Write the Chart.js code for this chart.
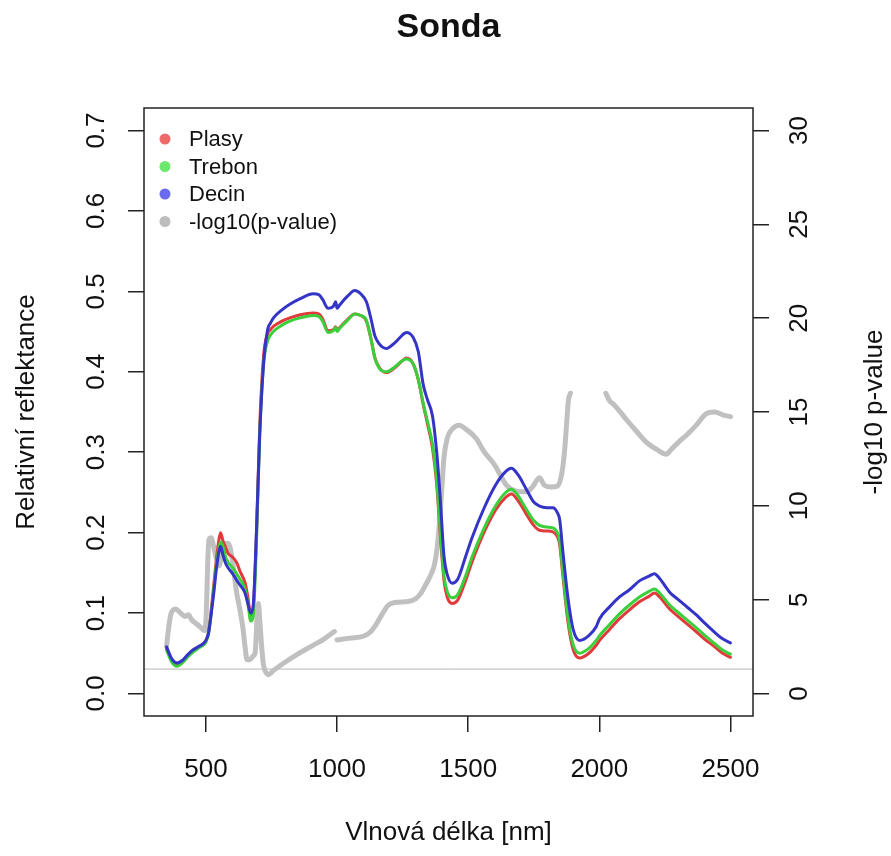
<!DOCTYPE html>
<html>
<head>
<meta charset="utf-8">
<title>Sonda</title>
<script src="https://cdn.jsdelivr.net/npm/chart.js@4.4.1/dist/chart.umd.min.js"></script>
<style>
  html, body { margin: 0; padding: 0; background: #fff; }
  #wrap { width: 891px; height: 856px; }
</style>
</head>
<body>
<div id="wrap"><canvas id="chart" width="891" height="856"></canvas></div>
<script>
// vlnove delky spolecne pro vsechny tri spektra
const wavelengths = [350, 370, 390, 410, 430, 450, 470, 490, 500, 510, 520, 530, 540, 550, 556, 565, 575, 585, 600, 617, 630, 649, 660, 671, 680, 693, 705, 720, 735, 745, 760, 790, 820, 860, 909, 930, 945, 966, 985, 995, 1000, 1010, 1040, 1068, 1090, 1112, 1130, 1144, 1160, 1188, 1220, 1250, 1265, 1290, 1310, 1328, 1345, 1364, 1380, 1393, 1408, 1420, 1439, 1460, 1490, 1514, 1560, 1604, 1640, 1665, 1690, 1720, 1750, 1772, 1800, 1823, 1840, 1849, 1860, 1880, 1900, 1925, 1960, 1988, 2001, 2040, 2077, 2115, 2153, 2190, 2210, 2230, 2268, 2300, 2340, 2369, 2400, 2440, 2470, 2500];

const plasy = [0.055, 0.041, 0.036, 0.040, 0.047, 0.053, 0.057, 0.062, 0.066, 0.076, 0.103, 0.135, 0.167, 0.192, 0.200, 0.190, 0.182, 0.174, 0.170, 0.163, 0.152, 0.138, 0.120, 0.097, 0.105, 0.200, 0.330, 0.420, 0.447, 0.452, 0.457, 0.463, 0.467, 0.471, 0.473, 0.472, 0.466, 0.451, 0.452, 0.456, 0.452, 0.455, 0.465, 0.472, 0.470, 0.463, 0.440, 0.418, 0.406, 0.399, 0.405, 0.414, 0.417, 0.410, 0.390, 0.360, 0.335, 0.305, 0.260, 0.200, 0.140, 0.120, 0.112, 0.116, 0.140, 0.163, 0.200, 0.228, 0.243, 0.248, 0.240, 0.224, 0.209, 0.203, 0.202, 0.201, 0.195, 0.185, 0.150, 0.090, 0.055, 0.044, 0.050, 0.060, 0.066, 0.080, 0.093, 0.104, 0.114, 0.121, 0.125, 0.120, 0.105, 0.096, 0.085, 0.077, 0.068, 0.058, 0.050, 0.045];

const trebon = [0.054, 0.039, 0.034, 0.038, 0.045, 0.051, 0.056, 0.060, 0.064, 0.074, 0.100, 0.130, 0.160, 0.182, 0.188, 0.183, 0.170, 0.163, 0.157, 0.149, 0.142, 0.130, 0.112, 0.090, 0.095, 0.190, 0.320, 0.410, 0.438, 0.445, 0.451, 0.458, 0.463, 0.467, 0.470, 0.469, 0.463, 0.449, 0.451, 0.455, 0.450, 0.454, 0.464, 0.472, 0.470, 0.464, 0.440, 0.417, 0.405, 0.400, 0.406, 0.414, 0.416, 0.410, 0.390, 0.362, 0.338, 0.310, 0.265, 0.205, 0.146, 0.127, 0.119, 0.123, 0.146, 0.169, 0.205, 0.233, 0.249, 0.254, 0.246, 0.230, 0.215, 0.209, 0.207, 0.206, 0.200, 0.190, 0.155, 0.095, 0.061, 0.050, 0.056, 0.066, 0.072, 0.086, 0.099, 0.110, 0.120, 0.127, 0.130, 0.125, 0.110, 0.101, 0.090, 0.082, 0.073, 0.062, 0.054, 0.049];

const decin = [0.058, 0.043, 0.038, 0.041, 0.048, 0.054, 0.058, 0.062, 0.066, 0.075, 0.098, 0.125, 0.155, 0.177, 0.183, 0.172, 0.162, 0.156, 0.150, 0.141, 0.135, 0.125, 0.112, 0.100, 0.108, 0.204, 0.320, 0.410, 0.452, 0.460, 0.468, 0.477, 0.484, 0.491, 0.497, 0.496, 0.490, 0.479, 0.481, 0.487, 0.479, 0.483, 0.494, 0.501, 0.497, 0.487, 0.465, 0.445, 0.435, 0.429, 0.436, 0.446, 0.449, 0.443, 0.425, 0.385, 0.365, 0.345, 0.300, 0.245, 0.170, 0.148, 0.137, 0.142, 0.170, 0.193, 0.230, 0.259, 0.275, 0.280, 0.272, 0.255, 0.238, 0.233, 0.231, 0.231, 0.225, 0.216, 0.180, 0.120, 0.080, 0.066, 0.072, 0.083, 0.093, 0.108, 0.120, 0.129, 0.140, 0.146, 0.149, 0.143, 0.126, 0.117, 0.106, 0.098, 0.088, 0.076, 0.068, 0.063];

// -log10(p-value), null = mezera v datech
const pWavelengths = [350, 358, 366, 375, 385, 395, 410, 420, 433, 445, 455, 470, 485, 496, 502, 507, 512, 520, 530, 540, 550, 558, 570, 582, 592, 602, 617, 630, 642, 650, 657, 668, 680, 688, 695, 700, 705, 712, 720, 730, 737, 760, 800, 850, 900, 950, 990, 995, 1000, 1050, 1100, 1125, 1150, 1175, 1195, 1220, 1270, 1300, 1320, 1340, 1360, 1372, 1382, 1390, 1398, 1408, 1420, 1440, 1465, 1490, 1530, 1560, 1600, 1646, 1680, 1722, 1745, 1772, 1790, 1815, 1840, 1858, 1868, 1876, 1882, 1890, 1950, 2025, 2039, 2055, 2080, 2103, 2140, 2179, 2220, 2255, 2274, 2306, 2331, 2370, 2407, 2440, 2470, 2500];
const pValues = [2.5, 3.5, 4.2, 4.45, 4.5, 4.4, 4.2, 4.1, 4.2, 3.95, 3.8, 3.65, 3.45, 3.35, 4.5, 7.0, 8.2, 8.3, 7.8, 7.2, 6.8, 7.2, 7.9, 8.0, 7.8, 7.0, 5.4, 4.45, 3.4, 2.4, 1.8, 1.8, 2.0, 2.2, 4.0, 4.8, 4.0, 2.6, 1.5, 1.1, 1.0, 1.25, 1.65, 2.1, 2.5, 2.9, 3.3, null, 2.85, 2.95, 3.05, 3.25, 3.7, 4.3, 4.7, 4.85, 4.9, 5.05, 5.35, 5.85, 6.4, 6.9, 7.8, 9.0, 10.6, 12.6, 13.6, 14.1, 14.3, 14.1, 13.6, 12.9, 12.2, 11.1, 10.8, 10.75, 11.0, 11.5, 11.1, 11.0, 11.05, 11.8, 13.0, 14.5, 15.6, 16.0, null, 16.0, 15.6, 15.4, 15.0, 14.6, 14.0, 13.4, 13.0, 12.75, 13.0, 13.45, 13.75, 14.3, 14.9, 15.0, 14.85, 14.75];

const xTicks = [500, 1000, 1500, 2000, 2500];
const reflTicks = [0, 0.1, 0.2, 0.3, 0.4, 0.5, 0.6, 0.7];
const pTicks = [0, 5, 10, 15, 20, 25, 30];
const pThreshold = -Math.log10(0.05);

const FONT = '"Liberation Sans", Arial, sans-serif';

const legendItems = [
    { label: 'Plasy', color: '#ef6b6b' },
    { label: 'Trebon', color: '#6ce86c' },
    { label: 'Decin', color: '#6b6bef' },
    { label: '-log10(p-value)', color: '#bdbdbd' }
];

function toPoints(xs, ys) {
    return xs.map((x, i) => ({ x: x, y: ys[i] }));
}

// R-like osy, popisky, legenda a prahova cara
const rStyle = {
    id: 'rStyle',
    beforeDatasetsDraw(chart) {
        const { ctx, chartArea: a, scales } = chart;
        const ty = scales.y2.getPixelForValue(pThreshold);
        ctx.save();
        ctx.strokeStyle = '#b5b5b5';
        ctx.lineWidth = 1;
        ctx.beginPath();
        ctx.moveTo(a.left, ty);
        ctx.lineTo(a.right, ty);
        ctx.stroke();
        ctx.restore();
    },
    afterDraw(chart) {
        const { ctx, chartArea: a, scales } = chart;
        ctx.save();
        ctx.strokeStyle = '#222';
        ctx.lineWidth = 1.5;
        ctx.strokeRect(a.left, a.top, a.right - a.left, a.bottom - a.top);

        ctx.fillStyle = '#111';
        ctx.font = '26px ' + FONT;
        ctx.textAlign = 'center';
        ctx.textBaseline = 'middle';
        xTicks.forEach(v => {
            ctx.fillText(String(v), scales.x.getPixelForValue(v), a.bottom + 54);
        });

        const vertText = (txt, x, y) => {
            ctx.save();
            ctx.translate(x, y);
            ctx.rotate(-Math.PI / 2);
            ctx.fillText(txt, 0, 0);
            ctx.restore();
        };
        reflTicks.forEach(v => vertText(v.toFixed(1), a.left - 47, scales.y.getPixelForValue(v)));
        pTicks.forEach(v => vertText(String(v), a.right + 47, scales.y2.getPixelForValue(v)));

        const midX = (a.left + a.right) / 2;
        const midY = (a.top + a.bottom) / 2;
        ctx.fillText('Vlnová délka [nm]', midX, 833);
        vertText('Relativní reflektance', 27, midY);
        vertText('-log10 p-value', 875, midY);

        ctx.font = 'bold 34px ' + FONT;
        ctx.fillText('Sonda', midX, 28);

        // legenda
        ctx.font = '22px ' + FONT;
        ctx.textAlign = 'left';
        legendItems.forEach((item, i) => {
            const y = a.top + 31 + i * 27.5;
            ctx.fillStyle = item.color;
            ctx.beginPath();
            ctx.arc(a.left + 21, y, 5.5, 0, Math.PI * 2);
            ctx.fill();
            ctx.fillStyle = '#111';
            ctx.fillText(item.label, a.left + 45, y + 1);
        });
        ctx.restore();
    }
};

const tickGrid = { drawOnChartArea: false, drawTicks: true, tickLength: 16, color: '#222', lineWidth: 1.5 };

new Chart(document.getElementById('chart'), {
    type: 'line',
    data: {
        datasets: [
            { label: 'Decin', data: toPoints(wavelengths, decin), borderColor: '#3434c6', borderWidth: 3, yAxisID: 'y', order: 1 },
            { label: 'Trebon', data: toPoints(wavelengths, trebon), borderColor: '#3ccf3c', borderWidth: 3, yAxisID: 'y', order: 2 },
            { label: 'Plasy', data: toPoints(wavelengths, plasy), borderColor: '#e03a3a', borderWidth: 3, yAxisID: 'y', order: 3 },
            { label: '-log10(p-value)', data: toPoints(pWavelengths, pValues), borderColor: '#c0c0c0', borderWidth: 5, yAxisID: 'y2', order: 4, spanGaps: false }
        ]
    },
    options: {
        responsive: false,
        animation: false,
        devicePixelRatio: 1,
        layout: { padding: { top: 108, left: 0, right: 0, bottom: 0 } },
        elements: {
            point: { radius: 0 },
            line: { cubicInterpolationMode: 'monotone', borderCapStyle: 'round', borderJoinStyle: 'round' }
        },
        plugins: {
            legend: { display: false },
            title: { display: false },
            tooltip: { enabled: false }
        },
        scales: {
            x: {
                type: 'linear', min: 264, max: 2586,
                grid: tickGrid, border: { display: false },
                ticks: { display: false },
                afterBuildTicks: s => { s.ticks = xTicks.map(v => ({ value: v })); },
                afterFit: s => { s.height = 140; }
            },
            y: {
                type: 'linear', position: 'left', min: -0.028, max: 0.728,
                grid: tickGrid, border: { display: false },
                ticks: { display: false },
                afterBuildTicks: s => { s.ticks = reflTicks.map(v => ({ value: v })); },
                afterFit: s => { s.width = 144; }
            },
            y2: {
                type: 'linear', position: 'right', min: -1.2, max: 31.2,
                grid: tickGrid, border: { display: false },
                ticks: { display: false },
                afterBuildTicks: s => { s.ticks = pTicks.map(v => ({ value: v })); },
                afterFit: s => { s.width = 138; }
            }
        }
    },
    plugins: [rStyle]
});
</script>
</body>
</html>
